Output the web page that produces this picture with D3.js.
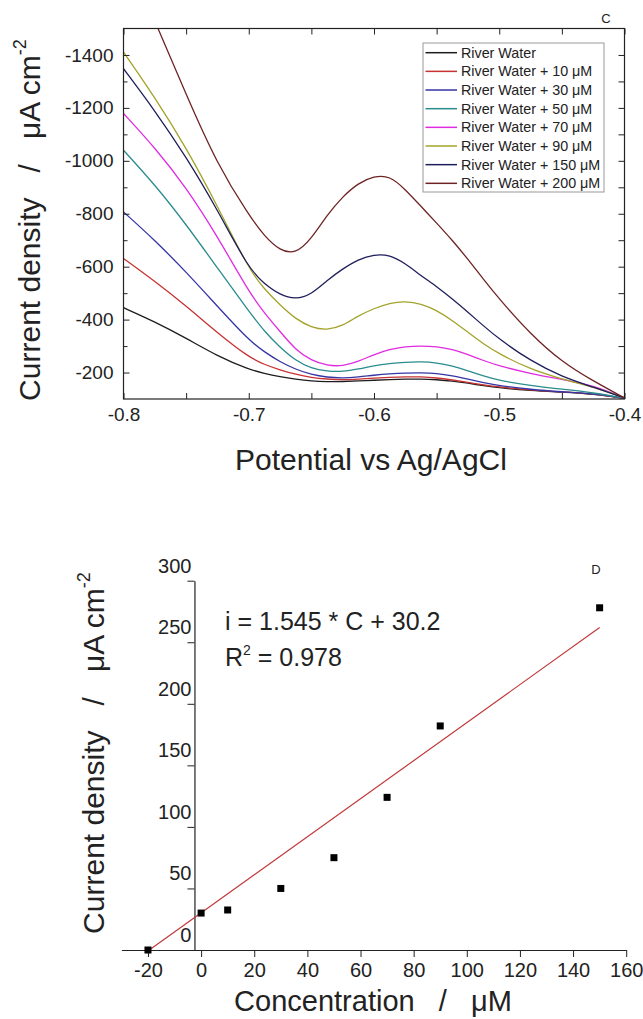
<!DOCTYPE html>
<html>
<head>
<meta charset="utf-8">
<script src="https://cdnjs.cloudflare.com/ajax/libs/d3/7.8.5/d3.min.js"></script>
<style>
  html, body { margin: 0; padding: 0; background: #fff; }
  svg { display: block; }
  text { font-family: "Liberation Sans", Arial, sans-serif; fill: #222; }
</style>
</head>
<body>
<svg id="chart" width="643" height="1019"></svg>
<script>
// ---------- Panel C data ----------
const potential = [-0.8, -0.775, -0.75, -0.725, -0.7, -0.6875, -0.675, -0.6625, -0.65, -0.6375, -0.625, -0.6125, -0.6, -0.5875, -0.575, -0.5625, -0.55, -0.5375, -0.525, -0.5125, -0.5, -0.475, -0.45, -0.425, -0.4];
const riverWater    = [-445, -392, -330, -262, -212, -196, -184, -175, -168, -165, -166, -168, -171, -173, -175, -176, -173, -168, -160, -150, -142, -132, -126, -119, -102];
const riverWater10  = [-631, -545, -452, -350, -258, -230, -210, -193, -181, -175, -172, -175, -179, -182, -184, -184, -180, -172, -163, -153, -145, -134, -127, -120, -102];
const riverWater30  = [-807, -700, -580, -450, -322, -278, -240, -212, -192, -182, -179, -183, -190, -195, -198, -199, -197, -188, -175, -162, -150, -136, -127, -120, -103];
const riverWater50  = [-1040, -910, -760, -595, -432, -355, -295, -245, -215, -205, -203, -213, -226, -234, -239, -241, -237, -225, -207, -187, -170, -150, -137, -124, -103];
const riverWater70  = [-1179, -1050, -900, -715, -505, -425, -355, -285, -245, -226, -224, -242, -268, -288, -298, -301, -298, -288, -268, -245, -225, -196, -174, -152, -103];
const riverWater90  = [-1411, -1240, -1050, -830, -590, -515, -455, -402, -370, -360, -376, -415, -442, -463, -470, -460, -435, -397, -352, -308, -270, -212, -175, -146, -104];
const riverWater150 = [-1348, -1190, -1015, -815, -592, -535, -493, -476, -495, -548, -592, -628, -646, -645, -612, -566, -525, -478, -428, -376, -326, -244, -184, -145, -104];
const riverWater200 = [-1800, -1530, -1250, -985, -795, -715, -660, -648, -705, -795, -865, -916, -942, -944, -892, -828, -765, -700, -628, -552, -478, -345, -240, -168, -104];
const seriesNames = ["River Water", "River Water + 10 \u03BCM", "River Water + 30 \u03BCM", "River Water + 50 \u03BCM",
                     "River Water + 70 \u03BCM", "River Water + 90 \u03BCM", "River Water + 150 \u03BCM", "River Water + 200 \u03BCM"];
const seriesValues = [riverWater, riverWater10, riverWater30, riverWater50, riverWater70, riverWater90, riverWater150, riverWater200];
const seriesColors = ["#1e1e1e", "#c83232", "#3535a5", "#2a8c8c", "#e02ce0", "#a3a32a", "#1f1f5c", "#6e2424"];
const potentialTicks = [-0.8, -0.7, -0.6, -0.5, -0.4];
const potentialMinor = [-0.75, -0.65, -0.55, -0.45];
const densityTicks = [-200, -400, -600, -800, -1000, -1200, -1400];
const densityMinor = [-300, -500, -700, -900, -1100, -1300];

// ---------- Panel D data ----------
const concentration = [-20, 0, 10, 30, 50, 70, 90, 150];
const peakDensity = [0, 30, 32.5, 50, 75, 124, 182, 278];
const fitSlope = 1.545, fitIntercept = 30.2;
const fitRange = [-19.5, 150];
const concTicks = [-20, 0, 20, 40, 60, 80, 100, 120, 140, 160];
const peakTicks = [0, 50, 100, 150, 200, 250, 300];

const svg = d3.select("#chart");
const FONT = '"Liberation Sans", Arial, sans-serif';

// ================= Panel C =================
const L = 123.5, R = 624.5, T = 28.5, B = 399;
const x = d3.scaleLinear().domain([-0.8, -0.4]).range([L, R]);
const y = d3.scaleLinear().domain([-100, -1500]).range([B, T]);

svg.append("clipPath").attr("id", "clipC").append("rect")
  .attr("x", L).attr("y", T).attr("width", R - L).attr("height", B - T);

const line = d3.line().x((d, i) => x(potential[i])).y(d => y(d)).curve(d3.curveBasis);
const curves = svg.append("g").attr("clip-path", "url(#clipC)");
seriesValues.forEach((vals, k) => {
  curves.append("path").attr("d", line(vals)).attr("fill", "none")
    .attr("stroke", seriesColors[k]).attr("stroke-width", 1.3);
});

function styleAxis(g, size) {
  g.select(".domain").remove();
  g.selectAll("line").attr("stroke", "#222").attr("stroke-width", 1);
  g.selectAll("text").attr("font-family", FONT).attr("font-size", size).attr("fill", "#222");
}
// left
svg.append("g").attr("transform", `translate(${L},0)`)
  .call(d3.axisLeft(y).tickValues(densityTicks).tickSize(-6).tickPadding(10).tickFormat(d => d.toFixed(0)))
  .call(g => styleAxis(g, 19));
svg.append("g").attr("transform", `translate(${L},0)`)
  .call(d3.axisLeft(y).tickValues(densityMinor).tickSize(-4).tickFormat(""))
  .call(g => styleAxis(g, 19));
// right
svg.append("g").attr("transform", `translate(${R},0)`)
  .call(d3.axisRight(y).tickValues(densityTicks.concat(densityMinor)).tickSize(-6).tickFormat(""))
  .call(g => styleAxis(g, 19));
// bottom
svg.append("g").attr("transform", `translate(0,${B})`)
  .call(d3.axisBottom(x).tickValues(potentialTicks.concat(potentialMinor)).tickSize(-6).tickPadding(9)
    .tickFormat(d => potentialTicks.includes(d) ? d.toFixed(1) : ""))
  .call(g => styleAxis(g, 19));
// top
svg.append("g").attr("transform", `translate(0,${T})`)
  .call(d3.axisTop(x).tickValues(potentialTicks.concat(potentialMinor)).tickSize(-6).tickFormat(""))
  .call(g => styleAxis(g, 19));
// frame
svg.append("rect").attr("x", L).attr("y", T).attr("width", R - L).attr("height", B - T)
  .attr("fill", "none").attr("stroke", "#222").attr("stroke-width", 1.2);

// legend
const lg = svg.append("g");
lg.append("rect").attr("x", 423).attr("y", 43).attr("width", 181).attr("height", 149)
  .attr("fill", "#fff").attr("stroke", "#999").attr("stroke-width", 1);
seriesNames.forEach((name, k) => {
  const yy = 52.7 + k * 18.66;
  lg.append("line").attr("x1", 425.5).attr("x2", 457).attr("y1", yy).attr("y2", yy)
    .attr("stroke", seriesColors[k]).attr("stroke-width", 1.5);
  lg.append("text").attr("x", 461).attr("y", yy).attr("dy", "0.35em")
    .attr("font-size", 14.3).attr("textLength", null).text(name);
});

svg.append("text").attr("x", 606).attr("y", 23).attr("font-size", 13).attr("text-anchor", "middle").text("C");

// axis titles
svg.append("text").attr("x", 371).attr("y", 470).attr("text-anchor", "middle")
  .attr("font-size", 30).text("Potential vs Ag/AgCl");

function yTitle(cx, cy) {
  const t = svg.append("text").attr("transform", `translate(${cx},${cy}) rotate(-90)`)
    .attr("text-anchor", "middle").attr("font-size", 30).style("white-space", "pre");
  t.append("tspan").text("Current density   /   \u03BCA cm");
  t.append("tspan").attr("font-size", 18).attr("dy", "-14").text("-2");
}
yTitle(40, 220);

// ================= Panel D =================
const x2 = d3.scaleLinear().domain([-30, 160]).range([121.4, 626.2]);
const y2 = d3.scaleLinear().domain([0, 300]).range([950, 580.7]);
const yAxisAt = -2.5;

svg.append("g").attr("transform", `translate(0,${y2(0)})`)
  .call(d3.axisBottom(x2).tickValues(concTicks).tickSize(7).tickSizeOuter(0).tickPadding(6).tickFormat(d => d.toFixed(0)))
  .call(g => {
    g.select(".domain").attr("stroke", "#222").attr("stroke-width", 1.2);
    g.selectAll("line").attr("stroke", "#222");
    g.selectAll("text").attr("font-family", FONT).attr("font-size", 20).attr("fill", "#222");
  });
svg.append("g").attr("transform", `translate(${x2(yAxisAt)},0)`)
  .call(d3.axisLeft(y2).tickValues(peakTicks).tickSize(7).tickSizeOuter(0).tickFormat(d => d.toFixed(0)))
  .call(g => {
    g.select(".domain").attr("stroke", "#222").attr("stroke-width", 1.2);
    g.selectAll("line").attr("stroke", "#222");
    g.selectAll("text").attr("font-family", FONT).attr("font-size", 20).attr("fill", "#222")
      .attr("x", -3).attr("dy", "-8.5");
  });

// fit line
svg.append("line")
  .attr("x1", x2(fitRange[0])).attr("y1", y2(fitSlope * fitRange[0] + fitIntercept))
  .attr("x2", x2(fitRange[1])).attr("y2", y2(fitSlope * fitRange[1] + fitIntercept))
  .attr("stroke", "#c0393b").attr("stroke-width", 1.2);

// points
svg.append("g").selectAll("rect").data(concentration).join("rect")
  .attr("x", (d) => x2(d) - 3.5).attr("y", (d, i) => y2(peakDensity[i]) - 3.5)
  .attr("width", 7).attr("height", 7).attr("fill", "#000");

svg.append("text").attr("x", 225).attr("y", 630).attr("font-size", 25).text("i = 1.545 * C + 30.2");
const r2 = svg.append("text").attr("x", 225).attr("y", 666).attr("font-size", 25);
r2.append("tspan").text("R");
r2.append("tspan").attr("font-size", 14).attr("dy", -11).text("2");
r2.append("tspan").attr("dy", 11).text(" = 0.978");

svg.append("text").attr("x", 596).attr("y", 574).attr("font-size", 13).attr("text-anchor", "middle").text("D");

svg.append("text").attr("x", 373).attr("y", 1011).attr("text-anchor", "middle")
  .attr("font-size", 29).style("white-space", "pre").text("Concentration   /   \u03BCM");
yTitle(104, 753);
</script>
</body>
</html>
